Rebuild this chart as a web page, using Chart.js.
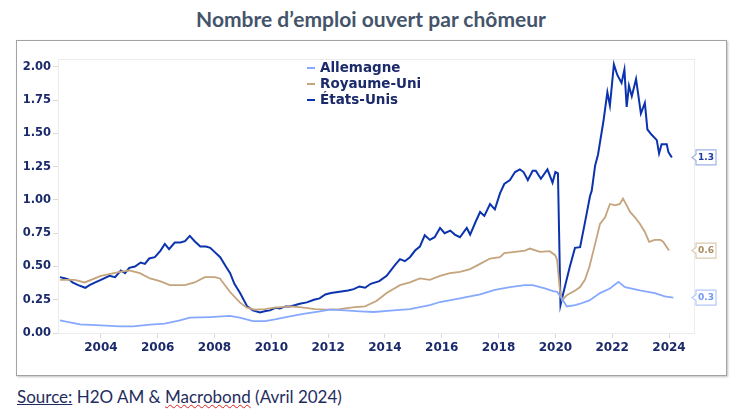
<!DOCTYPE html>
<html>
<head>
    <title>Nombre d'emploi ouvert par chômeur</title>
    <script src="https://cdn.jsdelivr.net/npm/chart.js"></script>
    <style>
        body {
            margin: 0;
            width: 742px;
            height: 416px;
            background: #ffffff;
            position: relative;
            overflow: hidden;
            font-family: 'Lato', sans-serif;
        }

        .title {
            position: absolute;
            left: 0;
            top: 6px;
            width: 742px;
            text-align: center;
            font-size: 21px;
            font-weight: bold;
            color: #44546a;
        }

        .frame {
            position: absolute;
            left: 16px;
            top: 40px;
            width: 709px;
            height: 334px;
            border: 1px solid #a3a3a3;
            box-shadow: 1px 1px 2px rgba(0, 0, 0, 0.25);
        }

        .frame canvas {
            position: absolute;
            left: 0;
            top: 0;
        }

        .legend {
            position: absolute;
            left: 290px;
            top: 18px;
            font-family: 'DejaVu Sans', sans-serif;
            font-weight: bold;
            font-size: 13.5px;
            color: #1b2a6b;
            line-height: 16px;
        }

        .legend span.mark {
            display: inline-block;
            width: 8px;
            height: 2px;
            margin-right: 5px;
            vertical-align: middle;
        }

        .source {
            position: absolute;
            left: 17px;
            top: 386px;
            font-size: 17px;
            color: #1f2d5e;
        }

        .source u {
            text-decoration: underline;
        }

        .source .spell {
            text-decoration: underline wavy #e02020;
            text-decoration-thickness: 1px;
        }
    </style>
</head>
<body>
<div class="title">Nombre d’emploi ouvert par chômeur</div>

<div class="frame">
    <canvas id="jobsChart" width="709" height="334"></canvas>
    <div class="legend" id="legend"></div>
</div>

<div class="source"><u>Source:</u> H2O AM &amp; <span class="spell">Macrobond</span> (Avril 2024)</div>

<script>
    // values (year as decimal, ratio)
    const seriesNames = ['Allemagne', 'Royaume-Uni', 'États-Unis'];

    const deYears = [2002.56, 2003.26, 2004.0, 2004.67, 2005.13, 2005.73, 2006.25, 2006.78, 2007.13, 2007.84,
        2008.54, 2008.89, 2009.35, 2009.78, 2010.13, 2010.65, 2011.18, 2011.71, 2012.06, 2012.6,
        2013.12, 2013.6, 2014.3, 2014.88, 2015.58, 2015.94, 2016.64, 2017.35, 2017.87, 2018.4,
        2018.93, 2019.2, 2019.63, 2019.92, 2020.06, 2020.27, 2020.4, 2020.7, 2020.87, 2021.2,
        2021.57, 2021.92, 2022.22, 2022.45, 2022.98, 2023.5, 2023.85, 2024.15];
    const deValues = [0.095, 0.065, 0.058, 0.05, 0.05, 0.063, 0.07, 0.095, 0.115, 0.12,
        0.128, 0.115, 0.09, 0.09, 0.103, 0.125, 0.146, 0.163, 0.176, 0.17,
        0.163, 0.158, 0.17, 0.18, 0.21, 0.233, 0.26, 0.29, 0.325, 0.345,
        0.36, 0.36, 0.335, 0.315, 0.31, 0.245, 0.20, 0.21, 0.22, 0.245,
        0.30, 0.335, 0.385, 0.345, 0.32, 0.30, 0.275, 0.266];

    const ukYears = [2002.56, 2003.08, 2003.43, 2004.0, 2004.67, 2005.0, 2005.37, 2005.73, 2006.08, 2006.43,
        2006.96, 2007.3, 2007.66, 2008.01, 2008.19, 2008.54, 2008.89, 2009.14, 2009.42, 2009.77,
        2010.13, 2010.65, 2011.0, 2011.54, 2011.9, 2012.4, 2012.94, 2013.3, 2013.7, 2014.06,
        2014.53, 2014.88, 2015.23, 2015.58, 2015.94, 2016.29, 2016.64, 2017.0, 2017.35, 2017.7,
        2018.05, 2018.2, 2018.58, 2018.93, 2019.1, 2019.46, 2019.8, 2019.99, 2020.06, 2020.16,
        2020.24, 2020.4, 2020.7, 2020.87, 2021.04, 2021.2, 2021.4, 2021.57, 2021.75, 2021.92,
        2022.1, 2022.27, 2022.38, 2022.51, 2022.63, 2022.8, 2022.98, 2023.15, 2023.3, 2023.5,
        2023.7, 2023.8, 2024.0];
    const ukValues = [0.40, 0.40, 0.38, 0.43, 0.46, 0.47, 0.45, 0.41, 0.39, 0.36,
        0.36, 0.38, 0.42, 0.42, 0.41, 0.31, 0.23, 0.19, 0.175, 0.18,
        0.19, 0.20, 0.195, 0.18, 0.175, 0.18, 0.195, 0.20, 0.24, 0.30,
        0.36, 0.38, 0.41, 0.40, 0.43, 0.45, 0.46, 0.48, 0.52, 0.56,
        0.57, 0.60, 0.61, 0.62, 0.635, 0.61, 0.615, 0.585, 0.55, 0.32,
        0.245, 0.285, 0.32, 0.345, 0.40, 0.50, 0.67, 0.82, 0.87, 0.97,
        0.96, 0.97, 1.01, 0.96, 0.91, 0.87, 0.82, 0.76, 0.685, 0.70,
        0.70, 0.685, 0.62];

    const usYears = [2002.56, 2002.75, 2002.9, 2003.0, 2003.2, 2003.45, 2003.6, 2003.8, 2004.0, 2004.3,
        2004.5, 2004.7, 2004.85, 2005.0, 2005.2, 2005.4, 2005.55, 2005.7, 2005.9, 2006.1,
        2006.25, 2006.4, 2006.6, 2006.8, 2006.96, 2007.13, 2007.3, 2007.5, 2007.7, 2007.85,
        2008.0, 2008.2, 2008.4, 2008.55, 2008.7, 2008.9, 2009.15, 2009.35, 2009.6, 2009.8,
        2009.95, 2010.15, 2010.3, 2010.5, 2010.65, 2010.85, 2011.0, 2011.25, 2011.5, 2011.7,
        2011.9, 2012.1, 2012.4, 2012.7, 2012.9, 2013.1, 2013.3, 2013.5, 2013.8, 2014.06,
        2014.35, 2014.53, 2014.7, 2014.88, 2015.06, 2015.23, 2015.4, 2015.58, 2015.75, 2015.94,
        2016.1, 2016.3, 2016.46, 2016.64, 2016.88, 2017.0, 2017.2, 2017.35, 2017.5, 2017.7,
        2017.87, 2018.05, 2018.2, 2018.4, 2018.58, 2018.75, 2018.88, 2019.03, 2019.2, 2019.31,
        2019.49, 2019.72, 2019.9, 2020.0, 2020.09, 2020.18, 2020.28, 2020.51, 2020.69, 2020.87,
        2021.04, 2021.22, 2021.28, 2021.4, 2021.5, 2021.69, 2021.83, 2021.92, 2022.06, 2022.18,
        2022.33, 2022.43, 2022.51, 2022.59, 2022.69, 2022.84, 2023.01, 2023.15, 2023.24, 2023.39,
        2023.57, 2023.65, 2023.74, 2023.92, 2023.98, 2024.1];
    const usValues = [0.42, 0.41, 0.40, 0.38, 0.36, 0.34, 0.36, 0.38, 0.40, 0.43,
        0.42, 0.47, 0.45, 0.49, 0.50, 0.53, 0.52, 0.56, 0.57, 0.62,
        0.67, 0.63, 0.68, 0.68, 0.69, 0.73, 0.69, 0.65, 0.65, 0.64,
        0.61, 0.57, 0.50, 0.45, 0.37, 0.30, 0.20, 0.17, 0.155, 0.165,
        0.17, 0.19, 0.185, 0.20, 0.20, 0.21, 0.22, 0.23, 0.25, 0.26,
        0.29, 0.30, 0.31, 0.32, 0.33, 0.35, 0.34, 0.37, 0.39, 0.43,
        0.51, 0.555, 0.54, 0.57, 0.62, 0.65, 0.735, 0.70, 0.72, 0.79,
        0.75, 0.77, 0.74, 0.72, 0.79, 0.74, 0.84, 0.91, 0.88, 0.97,
        0.93, 1.05, 1.12, 1.15, 1.21, 1.23, 1.21, 1.15, 1.22, 1.22,
        1.16, 1.23, 1.13, 1.21, 1.20, 0.21, 0.30, 0.50, 0.64, 0.645,
        0.83, 1.03, 1.07, 1.26, 1.34, 1.59, 1.81, 1.71, 2.02, 1.94,
        1.88, 1.98, 1.70, 1.86, 1.78, 1.91, 1.65, 1.73, 1.53, 1.49,
        1.45, 1.35, 1.42, 1.42, 1.36, 1.32];

    const xTicks = [2004, 2006, 2008, 2010, 2012, 2014, 2016, 2018, 2020, 2022, 2024];
    const yTicks = [0, 0.25, 0.5, 0.75, 1.0, 1.25, 1.5, 1.75, 2.0];

    const lineColors = ['#86a9ff', '#c4a47c', '#0b33ad'];
    const tagBorders = ['#b3c8ff', '#dccbb2', '#9fb2e6'];
    const tagTexts = ['#7396f0', '#aa8b62', '#1d3b9e'];
    const navy = '#1b2a6b';
    const axisGray = '#d9d9d9';

    function toPoints(xs, ys) {
        return xs.map((x, i) => ({x: x, y: ys[i]}));
    }

    const allYears = [deYears, ukYears, usYears];
    const allValues = [deValues, ukValues, usValues];

    // html legend, lines drawn with the series colours
    const legendBox = document.getElementById('legend');
    seriesNames.forEach((name, i) => {
        const row = document.createElement('div');
        row.innerHTML = '<span class="mark" style="background:' + lineColors[i] + '"></span>' + name;
        legendBox.appendChild(row);
    });

    // frame around the plot and the end-value tags at the right
    const frameAndTags = {
        id: 'frameAndTags',
        beforeDatasetsDraw(chart) {
            const a = chart.chartArea;
            const ctx = chart.ctx;
            ctx.save();
            ctx.strokeStyle = '#ececec';
            ctx.lineWidth = 1;
            ctx.strokeRect(a.left + 0.5, a.top + 0.5, a.right - a.left, a.bottom - a.top);
            ctx.restore();
        },
        afterDatasetsDraw(chart) {
            const ctx = chart.ctx;
            const yScale = chart.scales.y;
            const left = chart.chartArea.right + 2;
            ctx.save();
            chart.data.datasets.forEach((ds, i) => {
                const last = ds.data[ds.data.length - 1].y;
                const cy = yScale.getPixelForValue(last);
                const w = 20, h = 15;
                const top = cy - h / 2;
                ctx.beginPath();
                ctx.moveTo(left, top);
                ctx.lineTo(left + w, top);
                ctx.lineTo(left + w, top + h);
                ctx.lineTo(left, top + h);
                ctx.lineTo(left, cy + 3);
                ctx.lineTo(left - 4, cy);
                ctx.lineTo(left, cy - 3);
                ctx.closePath();
                ctx.fillStyle = '#ffffff';
                ctx.fill();
                ctx.strokeStyle = tagBorders[i];
                ctx.lineWidth = 1.2;
                ctx.stroke();
                ctx.fillStyle = tagTexts[i];
                ctx.font = 'bold 9px "DejaVu Sans"';
                ctx.textAlign = 'center';
                ctx.textBaseline = 'middle';
                ctx.fillText(last.toFixed(1), left + w / 2, cy + 0.5);
            });
            ctx.restore();
        }
    };

    const ctx = document.getElementById('jobsChart').getContext('2d');
    new Chart(ctx, {
        type: 'line',
        data: {
            datasets: seriesNames.map((name, i) => ({
                label: name,
                data: toPoints(allYears[i], allValues[i]),
                borderColor: lineColors[i],
                borderWidth: i === 2 ? 2 : 1.8,
                pointRadius: 0,
                tension: 0,
                fill: false
            }))
        },
        options: {
            responsive: false,
            animation: false,
            layout: {
                padding: {top: 18, right: 32, left: 0, bottom: 12}
            },
            plugins: {
                legend: {display: false},
                tooltip: {enabled: false}
            },
            scales: {
                x: {
                    type: 'linear',
                    min: 2002.49,
                    max: 2024.88,
                    afterBuildTicks: scale => {
                        scale.ticks = xTicks.map(v => ({value: v}));
                    },
                    afterFit: scale => {
                        scale.height = 30;
                    },
                    grid: {
                        drawOnChartArea: false,
                        drawTicks: true,
                        tickLength: 5,
                        color: axisGray
                    },
                    border: {display: true, color: axisGray},
                    ticks: {
                        color: navy,
                        padding: 3,
                        maxRotation: 0,
                        font: {family: 'DejaVu Sans', weight: 'bold', size: 12},
                        callback: v => String(v)
                    }
                },
                y: {
                    min: 0,
                    max: 2.06,
                    afterBuildTicks: scale => {
                        scale.ticks = yTicks.map(v => ({value: v}));
                    },
                    afterFit: scale => {
                        scale.width = 41;
                    },
                    grid: {
                        drawOnChartArea: false,
                        drawTicks: true,
                        tickLength: 5,
                        color: axisGray
                    },
                    border: {display: true, color: axisGray},
                    ticks: {
                        color: navy,
                        padding: 2,
                        font: {family: 'DejaVu Sans', weight: 'bold', size: 11.5},
                        callback: v => v.toFixed(2)
                    }
                }
            }
        },
        plugins: [frameAndTags]
    });
</script>
</body>
</html>
